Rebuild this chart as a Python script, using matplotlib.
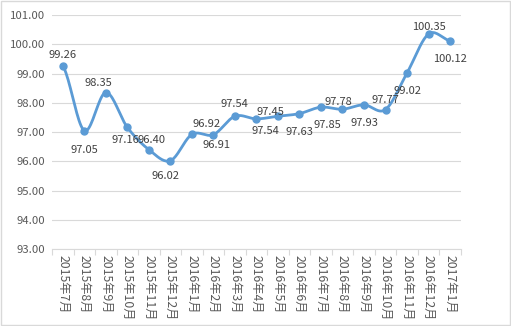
import numpy as np
import matplotlib.pyplot as plt
from matplotlib.patches import Rectangle

plt.rcParams['font.family'] = ['Noto Sans CJK SC', 'DejaVu Sans']

months = ["2015年7月", "2015年8月", "2015年9月", "2015年10月", "2015年11月", "2015年12月",
          "2016年1月", "2016年2月", "2016年3月", "2016年4月", "2016年5月", "2016年6月",
          "2016年7月", "2016年8月", "2016年9月", "2016年10月", "2016年11月", "2016年12月",
          "2017年1月"]
values = [99.26, 97.05, 98.35, 97.16, 96.40, 96.02, 96.92, 96.91, 97.54, 97.45,
          97.54, 97.63, 97.85, 97.78, 97.93, 97.77, 99.02, 100.35, 100.12]

# label offsets in pixels (dx, dy), hand placed like the Excel chart
offsets = [(0, 11), (0, -19), (-7, 10), (-2, -13), (3, 10), (-5, -15), (15, 10),
           (3, -10), (0, 12), (14, 7), (-12, -15), (0, -18), (6, -18), (-4, 7),
           (0, -18), (0, 10), (0, -18), (0, 7), (0, -18)]

color = "#5B9BD5"
txt = "#595959"


def smooth(y, n=20):
    # catmull-rom through the points, similar to Excel's smoothed line
    y = np.asarray(y, float)
    p = np.concatenate([[y[0]], y, [y[-1]]])
    xs, ys = [], []
    for i in range(len(y) - 1):
        t = np.linspace(0, 1, n, endpoint=False)
        p0, p1, p2, p3 = p[i], p[i + 1], p[i + 2], p[i + 3]
        ys.append(0.5 * (2 * p1 + (-p0 + p2) * t + (2 * p0 - 5 * p1 + 4 * p2 - p3) * t ** 2
                         + (-p0 + 3 * p1 - 3 * p2 + p3) * t ** 3))
        xs.append(i + t)
    xs.append([len(y) - 1])
    ys.append([y[-1]])
    return np.concatenate(xs), np.concatenate(ys)


fig = plt.figure(figsize=(5.11, 3.26), dpi=100)
ax = fig.add_axes([0.1018, 0.236, 0.8, 0.718])

x = np.arange(len(values))
sx, sy = smooth(values)
ax.plot(sx, sy, color=color, lw=2.0, solid_capstyle="round", zorder=3)
ax.plot(x, values, "o", color=color, ms=5, zorder=4)

for i, v in enumerate(values):
    dx, dy = offsets[i]
    ax.annotate(f"{v:.2f}", (i, v), xytext=(dx * 0.72, dy * 0.72), textcoords="offset points",
                ha="center", va="center", fontsize=8.0, color="#404040", zorder=5)

ax.set_xlim(-0.5, len(values) - 0.5)
ax.set_ylim(93, 101)
ax.set_yticks(np.arange(93, 101.5, 1))
ax.set_yticklabels([f"{t:.2f}" for t in np.arange(93, 101.5, 1)])
ax.yaxis.grid(True, color="#D9D9D9", lw=0.8)
ax.set_axisbelow(True)

ax.set_xticks(x)
ax.set_xticklabels(months, rotation=270, va="top", ha="center")
ax.set_xticks(np.arange(-0.5, len(values), 1), minor=True)
ax.tick_params(axis="x", which="major", length=0, pad=4, labelsize=8.8, colors=txt)
ax.tick_params(axis="x", which="minor", length=4, color="#D9D9D9", width=0.8)
ax.tick_params(axis="y", length=0, labelsize=8.2, colors=txt, pad=5)

for s in ["left", "right", "top"]:
    ax.spines[s].set_visible(False)
ax.spines["bottom"].set_color("#D9D9D9")
ax.spines["bottom"].set_linewidth(0.8)

fig.patches.append(Rectangle((0.001, 0.002), 0.997, 0.995, transform=fig.transFigure,
                             fill=False, ec="#D9D9D9", lw=1))

fig.savefig("out.png", dpi=100)
